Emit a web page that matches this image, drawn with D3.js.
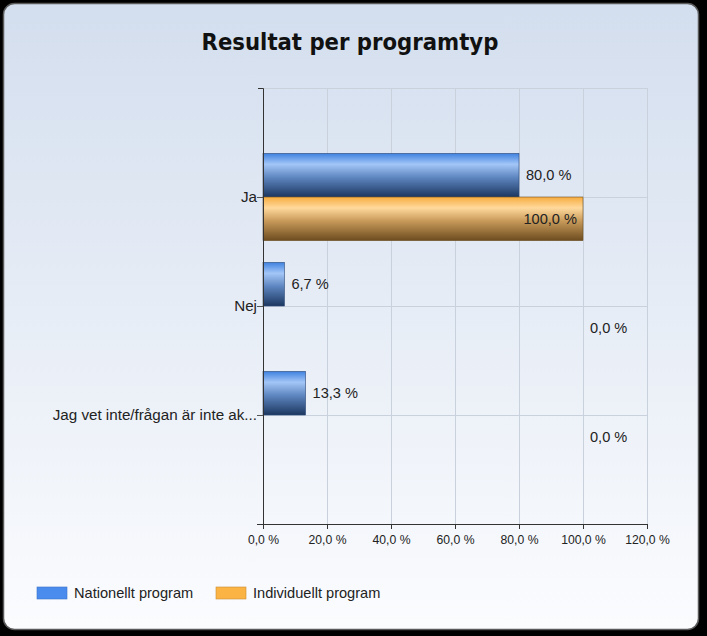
<!DOCTYPE html>
<html>
<head>
<meta charset="utf-8">
<script src="https://cdn.jsdelivr.net/npm/d3@7"></script>
<style>
  html, body { margin: 0; padding: 0; background: #000; }
  svg { display: block; }
</style>
</head>
<body>
<svg id="chart" width="707" height="636"></svg>
<script>
const categories = ["Ja", "Nej", "Jag vet inte/frågan är inte ak..."];
const seriesNames = ["Nationellt program", "Individuellt program"];
const nationellt = [80.0, 6.7, 13.3];
const individuellt = [100.0, 0.0, 0.0];
const xTicks = [0, 20, 40, 60, 80, 100, 120];
const title = "Resultat per programtyp";

const fmt = v => d3.format(".1f")(v).replace(".", ",") + " %";

const svg = d3.select("#chart");
const defs = svg.append("defs");

const bg = defs.append("linearGradient").attr("id", "bg").attr("x1", 0).attr("y1", 0).attr("x2", 0).attr("y2", 1);
bg.append("stop").attr("offset", "0%").attr("stop-color", "#d3deee");
bg.append("stop").attr("offset", "100%").attr("stop-color", "#fbfcfe");

function barGrad(id, stops) {
  const g = defs.append("linearGradient").attr("id", id).attr("x1", 0).attr("y1", 0).attr("x2", 0).attr("y2", 1);
  stops.forEach(s => g.append("stop").attr("offset", s[0]).attr("stop-color", s[1]));
}
barGrad("gBlue", [["0%", "#3f82e0"], ["25%", "#a3c6f7"], ["55%", "#5e86c0"], ["100%", "#1c3760"]]);
barGrad("gOrange", [["0%", "#f7ac3e"], ["25%", "#ffd99c"], ["55%", "#c89a5a"], ["100%", "#6d4c1f"]]);

svg.append("rect").attr("width", 707).attr("height", 636).attr("fill", "#000");
svg.append("rect").attr("x", 3.5).attr("y", 3.5).attr("width", 695).attr("height", 626)
  .attr("rx", 11).attr("fill", "url(#bg)").attr("stroke", "#5a5a5a").attr("stroke-width", 1.5);

svg.append("text").attr("x", 350).attr("y", 50).attr("text-anchor", "middle")
  .attr("font-family", "'DejaVu Sans Condensed', 'DejaVu Sans', sans-serif").attr("font-weight", "bold")
  .attr("font-size", 23.6).attr("fill", "#111").text(title);

const x = d3.scaleLinear().domain([0, 120]).range([263, 647]);
const y = d3.scaleLinear().domain([0, categories.length + 1]).range([88, 524]);
const slot = y(1) - y(0);
const bh = slot * 0.4;

const font = "'Liberation Sans', Arial, sans-serif";
const fs = 14.6;

const grid = svg.append("g").attr("stroke", "#c9d1dd").attr("stroke-width", 1);
xTicks.slice(1).forEach(t => grid.append("line").attr("x1", Math.round(x(t)) + 0.5).attr("x2", Math.round(x(t)) + 0.5).attr("y1", y(0)).attr("y2", y(categories.length + 1)));
d3.range(0, categories.length + 1).forEach(i => grid.append("line").attr("x1", x(0)).attr("x2", x(120)).attr("y1", Math.round(y(i)) + 0.5).attr("y2", Math.round(y(i)) + 0.5));

const gb = svg.append("g");
categories.forEach((c, i) => {
  const yc = y(i + 1);
  gb.append("rect").attr("x", x(0)).attr("y", yc - bh).attr("width", x(nationellt[i]) - x(0)).attr("height", bh)
    .attr("fill", "url(#gBlue)").attr("stroke", "#2c4a78").attr("stroke-width", 0.6);
  if (individuellt[i] > 0) {
    gb.append("rect").attr("x", x(0)).attr("y", yc).attr("width", x(individuellt[i]) - x(0)).attr("height", bh)
      .attr("fill", "url(#gOrange)").attr("stroke", "#6b4d22").attr("stroke-width", 0.6);
  }
});

const lab = svg.append("g").attr("font-family", font).attr("font-size", fs).attr("fill", "#222");
const maxInd = d3.max(individuellt);
categories.forEach((c, i) => {
  const yc = y(i + 1);
  lab.append("text").attr("x", x(nationellt[i]) + 7).attr("y", yc - bh / 2 + 4.5).text(fmt(nationellt[i]));
  const v = individuellt[i];
  if (v >= maxInd && v > 0) {
    lab.append("text").attr("x", x(v) - 6).attr("y", yc + bh / 2 + 5).attr("text-anchor", "end").text(fmt(v));
  } else {
    lab.append("text").attr("x", x(maxInd) + 7).attr("y", yc + bh / 2 + 5).text(fmt(v));
  }
});

const xAxis = d3.axisBottom(x).tickValues(xTicks).tickFormat(fmt).tickSize(5).tickSizeOuter(0);
const gx = svg.append("g").attr("transform", `translate(0,${y(categories.length + 1)})`).call(xAxis);
gx.select(".domain").attr("stroke", "#333").attr("d", `M${x(0) - 6},0.5H${x(120)}`);
gx.selectAll(".tick line").attr("stroke", "#333");
gx.selectAll("text").attr("font-family", font).attr("font-size", 12.2).attr("fill", "#222").attr("dy", "0.95em");

const yAxis = d3.axisLeft(y).tickValues(d3.range(1, categories.length + 1)).tickFormat(i => categories[i - 1]).tickSize(6).tickSizeOuter(0);
const gy = svg.append("g").attr("transform", `translate(${x(0)},0)`).call(yAxis);
gy.select(".domain").attr("stroke", "#333").attr("d", `M-5,${y(0) + 0.5}H0.5V${y(categories.length + 1)}`);
gy.selectAll(".tick line").attr("stroke", "#555");
gy.selectAll("text").attr("font-family", font).attr("font-size", 15.2).attr("fill", "#222").attr("x", -6).attr("dy", "0.32em");

const legColors = ["#4a8cee", "#fbb444"];
const legStroke = ["#3a74c8", "#c98e33"];
const legX = [37, 216];
const leg = svg.append("g").attr("font-family", font).attr("font-size", fs).attr("fill", "#222");
seriesNames.forEach((s, i) => {
  leg.append("rect").attr("x", legX[i]).attr("y", 587).attr("width", 30).attr("height", 12)
    .attr("fill", legColors[i]).attr("stroke", legStroke[i]).attr("stroke-width", 0.6);
  leg.append("text").attr("x", legX[i] + 37).attr("y", 598).text(s);
});
</script>
</body>
</html>
